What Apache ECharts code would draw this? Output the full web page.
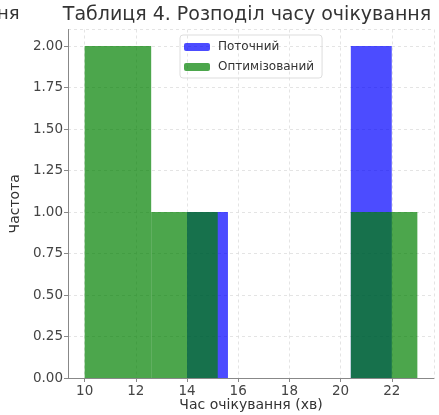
<!DOCTYPE html>
<html>
<head>
<meta charset="utf-8">
<script src="https://cdn.jsdelivr.net/npm/echarts@6/dist/echarts.min.js"></script>
<style>html,body{margin:0;padding:0;background:#fff}#c{width:439px;height:415px}</style>
</head>
<body>
<div id="c"></div>
<script>
// Histogram bins (edges) and counts
const currentEdges = [14, 15.6, 17.2, 18.8, 20.4, 22];
const currentCounts = [1, 0, 0, 0, 2];
const optimizedEdges = [10, 12.6, 15.2, 17.8, 20.4, 23];
const optimizedCounts = [2, 1, 0, 0, 1];
const xTicks = [10, 12, 14, 16, 18, 20, 22];
const yTicks = [0, 0.25, 0.5, 0.75, 1.0, 1.25, 1.5, 1.75, 2.0];
const seriesNames = ['Поточний', 'Оптимізований'];
const titleText = 'Таблиця 4. Розподіл часу очікування';
const xName = 'Час очікування (хв)';
const yName = 'Частота';

function binsData(edges, counts) {
  const d = [];
  for (let i = 0; i < counts.length; i++) {
    if (counts[i] > 0) d.push([edges[i], edges[i + 1], counts[i]]);
  }
  return d;
}

function renderBar(color) {
  return function (params, api) {
    const p0 = api.coord([api.value(0), api.value(2)]);
    const p1 = api.coord([api.value(1), 0]);
    return {
      type: 'rect',
      shape: { x: p0[0], y: p0[1], width: p1[0] - p0[0], height: p1[1] - p0[1] },
      style: { fill: color, opacity: 0.7 }
    };
  };
}

const chart = echarts.init(document.getElementById('c'), null, { renderer: 'canvas' });
const font = 'DejaVu Sans';
chart.setOption({
  animation: false,
  graphic: [
    {
      type: 'text', x: 247, y: 15,
      style: { text: titleText, font: '19px "DejaVu Sans"', fill: '#333', align: 'center', verticalAlign: 'middle' }
    },
    {
      type: 'text', x: -3, y: 14,
      style: { text: 'ня', font: '18px "DejaVu Sans"', fill: '#333', align: 'left', verticalAlign: 'middle' }
    },
    {
      type: 'text', x: 251, y: 405,
      style: { text: xName, font: '14px "DejaVu Sans"', fill: '#333', align: 'center', verticalAlign: 'middle' }
    }
  ],
  legend: {
    left: 180, top: 35, orient: 'vertical',
    itemWidth: 26, itemHeight: 8, itemGap: 8,
    padding: [6, 8, 5, 4],
    borderColor: '#ddd', borderWidth: 1, borderRadius: 3,
    textStyle: { fontFamily: font, fontSize: 12, color: '#333', padding: [0, 0, 0, 3] },
    data: [
      { name: seriesNames[0], itemStyle: { color: '#0000ff', opacity: 0.7 } },
      { name: seriesNames[1], itemStyle: { color: '#008000', opacity: 0.7 } }
    ]
  },
  grid: { left: 68, right: 5, top: 29.5, height: 348.5, containLabel: false, outerBoundsMode: 'none' },
  xAxis: {
    type: 'value', min: 9.35, max: 23.65, splitNumber: 7,
    axisLine: { show: true, lineStyle: { color: '#888', width: 1 } },
    axisTick: { show: true, length: 4, lineStyle: { color: '#888' } },
    axisLabel: {
      fontFamily: font, fontSize: 13.5, color: '#444', margin: 6,
      showMinLabel: false, showMaxLabel: false,
      formatter: v => (xTicks.indexOf(v) >= 0 ? String(v) : '')
    },
    splitLine: { show: true, lineStyle: { color: '#ddd', type: [3, 3], width: 0.8 } }
  },
  yAxis: {
    type: 'value', min: 0, max: 2.1, interval: 0.25,
    name: yName, nameLocation: 'middle', nameGap: 42, nameRotate: 90,
    nameTextStyle: { fontFamily: font, fontSize: 14, color: '#333' },
    axisLine: { show: true, lineStyle: { color: '#888', width: 1 } },
    axisTick: { show: true, length: 4, lineStyle: { color: '#888' } },
    axisLabel: {
      fontFamily: font, fontSize: 13.5, color: '#444', margin: 5,
      showMaxLabel: false,
      formatter: v => (yTicks.indexOf(v) >= 0 ? v.toFixed(2) : '')
    },
    splitLine: { show: true, lineStyle: { color: '#ddd', type: [3, 3], width: 0.8 } }
  },
  series: [
    {
      name: seriesNames[0], type: 'custom', renderItem: renderBar('#0000ff'),
      itemStyle: { color: '#0000ff', opacity: 0.7 },
      encode: { x: [0, 1], y: 2 },
      data: binsData(currentEdges, currentCounts)
    },
    {
      name: seriesNames[1], type: 'custom', renderItem: renderBar('#008000'),
      itemStyle: { color: '#008000', opacity: 0.7 },
      encode: { x: [0, 1], y: 2 },
      data: binsData(optimizedEdges, optimizedCounts)
    }
  ]
});
</script>
</body>
</html>
